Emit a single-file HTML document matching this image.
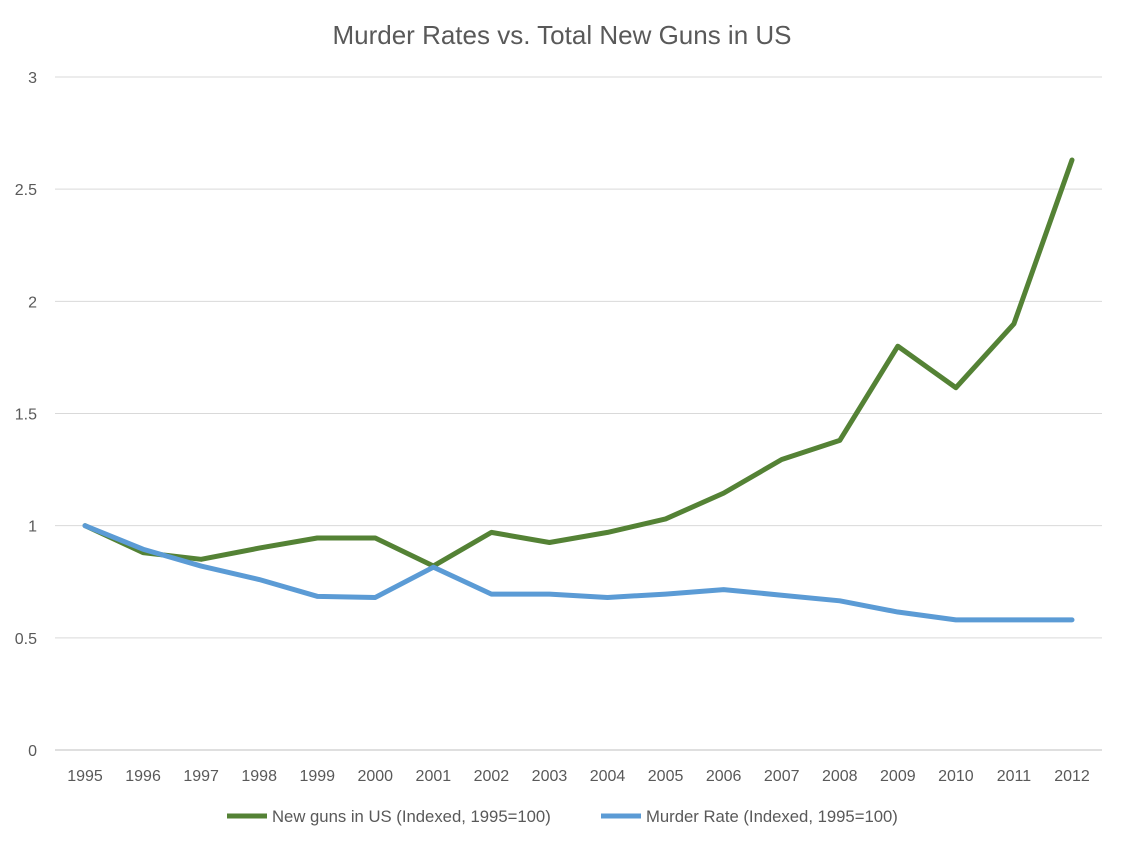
<!DOCTYPE html>
<html><head><meta charset="utf-8"><style>
body{margin:0;background:#fff;font-family:"Liberation Sans",sans-serif}
svg text{font-family:"Liberation Sans",sans-serif;fill:#595959}
</style></head><body>
<svg id="chart" width="1124" height="847" viewBox="0 0 1124 847">
<rect width="1124" height="847" fill="#fff"/>
<text x="562" y="44" text-anchor="middle" font-size="26">Murder Rates vs. Total New Guns in US</text>
<g id="grid"></g><g id="series"></g>
<g>
<line x1="227" y1="816" x2="267" y2="816" stroke="#548235" stroke-width="5"/>
<text x="272" y="822" font-size="16.7">New guns in US (Indexed, 1995=100)</text>
<line x1="601" y1="816" x2="641" y2="816" stroke="#5b9bd5" stroke-width="5"/>
<text x="646" y="822" font-size="16.7">Murder Rate (Indexed, 1995=100)</text>
</g>
</svg>
<script>
const years=[1995,1996,1997,1998,1999,2000,2001,2002,2003,2004,2005,2006,2007,2008,2009,2010,2011,2012];
const guns=[1.0,0.88,0.85,0.90,0.945,0.945,0.82,0.97,0.925,0.97,1.03,1.145,1.295,1.38,1.80,1.615,1.90,2.63];
const murder=[1.0,0.895,0.82,0.76,0.685,0.68,0.815,0.695,0.695,0.68,0.695,0.715,0.69,0.665,0.615,0.58,0.58,0.58];
const yTicks=[0,0.5,1,1.5,2,2.5,3];
const NS="http://www.w3.org/2000/svg";
const x=i=>85+i*(1072-85)/(years.length-1);
const y=v=>750-v*(750-77)/3;
const grid=document.getElementById('grid'),ser=document.getElementById('series');
function mk(t,a,p){const e=document.createElementNS(NS,t);for(const k in a)e.setAttribute(k,a[k]);p.appendChild(e);return e;}
yTicks.forEach(v=>{
 const l=mk('line',{x1:55,x2:1102,y1:y(v),y2:y(v),stroke:v===0?'#bfbfbf':'#d9d9d9','stroke-width':1},grid);
 
 
 const t=mk('text',{x:37,y:y(v)+6,'text-anchor':'end','font-size':16},grid);t.textContent=v;
 
 
});
years.forEach((yr,i)=>{
 const t=mk('text',{x:x(i),y:781,'text-anchor':'middle','font-size':16},grid);t.textContent=yr;
 
 
});
function line(d,c,n){
 const p=mk('polyline',{points:d.map((v,i)=>x(i)+','+y(v)).join(' '),fill:'none',stroke:c,'stroke-width':5,'stroke-linejoin':'round','stroke-linecap':'round'},ser);
 
 
}
line(guns,'#548235','guns-line');
line(murder,'#5b9bd5','murder-line');
</script>
</body></html>
